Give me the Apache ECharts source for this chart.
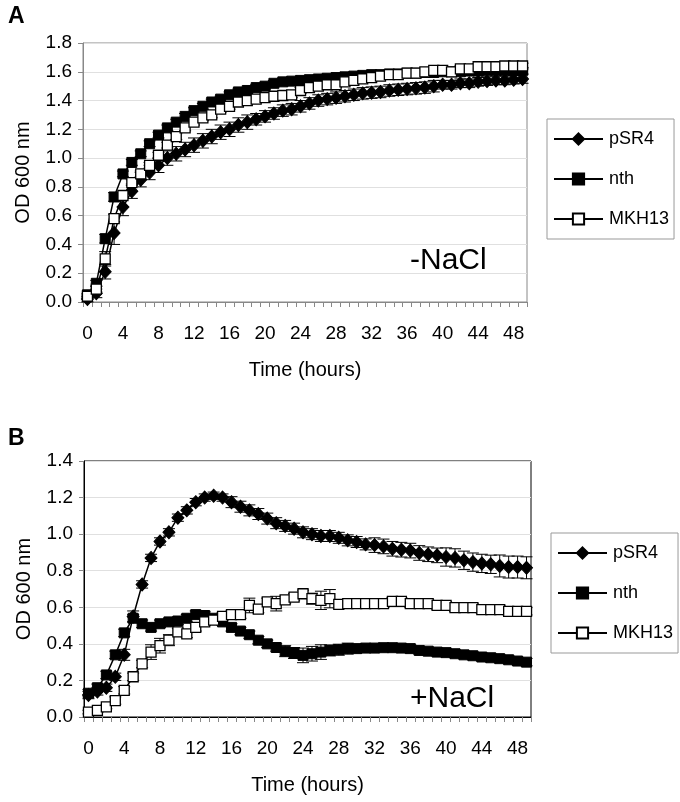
<!DOCTYPE html>
<html>
<head>
<meta charset="utf-8">
<script src="https://cdn.jsdelivr.net/npm/echarts@6/dist/echarts.min.js"></script>
<style>
html,body{margin:0;padding:0;background:#fff;}
#chart{width:680px;height:802px;}
</style>
</head>
<body>
<div id="chart"></div>
<script>
const hours = ['0','1','2','3','4','5','6','7','8','9','10','11','12','13','14','15','16','17','18','19','20','21','22','23','24','25','26','27','28','29','30','31','32','33','34','35','36','37','38','39','40','41','42','43','44','45','46','47','48','49'];
const seriesNames = ['pSR4', 'nth', 'MKH13'];
const yTicksA = [0, 0.2, 0.4, 0.6, 0.8, 1.0, 1.2, 1.4, 1.6, 1.8];
const yTicksB = [0, 0.2, 0.4, 0.6, 0.8, 1.0, 1.2, 1.4];

// Panel A (-NaCl)
const A_pSR4 = [0.02,0.06,0.21,0.48,0.66,0.77,0.85,0.90,0.95,1.00,1.03,1.06,1.09,1.12,1.15,1.18,1.20,1.23,1.25,1.27,1.29,1.31,1.33,1.34,1.36,1.38,1.40,1.41,1.42,1.43,1.44,1.45,1.455,1.46,1.47,1.475,1.48,1.485,1.49,1.50,1.51,1.51,1.52,1.52,1.53,1.535,1.54,1.54,1.545,1.55];
const A_nth = [0.05,0.13,0.44,0.73,0.89,0.97,1.03,1.10,1.16,1.21,1.25,1.29,1.33,1.36,1.39,1.41,1.44,1.46,1.47,1.49,1.50,1.52,1.53,1.535,1.54,1.545,1.55,1.555,1.56,1.565,1.57,1.575,1.58,1.58,1.585,1.585,1.59,1.59,1.595,1.595,1.60,1.60,1.60,1.605,1.605,1.61,1.61,1.61,1.61,1.61];
const A_MKH13 = [0.04,0.09,0.30,0.58,0.74,0.83,0.89,0.95,1.02,1.09,1.15,1.21,1.25,1.28,1.30,1.34,1.36,1.39,1.40,1.41,1.42,1.43,1.435,1.44,1.47,1.49,1.50,1.51,1.51,1.53,1.54,1.55,1.56,1.57,1.58,1.58,1.59,1.59,1.60,1.61,1.61,1.60,1.62,1.62,1.635,1.635,1.635,1.64,1.64,1.64];
const A_pSR4_err = [0.02,0.03,0.05,0.08,0.06,0.05,0.05,0.05,0.05,0.05,0.05,0.05,0.05,0.05,0.05,0.05,0.05,0.05,0.05,0.04,0.04,0.04,0.04,0.04,0.04,0.04,0.04,0.04,0.04,0.04,0.04,0.04,0.04,0.04,0.04,0.04,0.04,0.04,0.04,0.04,0.03,0.03,0.03,0.03,0.03,0.03,0.03,0.03,0.03,0.03];
const A_nth_err = [0.01,0.02,0.03,0.03,0.02,0.02,0.02,0.02,0.02,0.02,0.02,0.02,0.02,0.02,0.02,0.02,0.02,0.02,0.02,0.02,0.02,0.02,0.02,0.02,0.02,0.02,0.02,0.02,0.02,0.02,0.02,0.02,0.02,0.02,0.02,0.02,0.02,0.02,0.02,0.02,0.02,0.02,0.02,0.02,0.02,0.02,0.02,0.02,0.02,0.02];
const A_MKH13_err = [0.01,0.02,0.05,0.03,0.02,0.02,0.02,0.02,0.02,0.02,0.02,0.02,0.02,0.02,0.02,0.02,0.02,0.02,0.02,0.02,0.02,0.02,0.02,0.02,0.02,0.02,0.02,0.02,0.02,0.02,0.02,0.02,0.02,0.02,0.02,0.02,0.02,0.02,0.02,0.02,0.02,0.02,0.02,0.02,0.02,0.02,0.02,0.02,0.02,0.02];

// Panel B (+NaCl)
const B_pSR4 = [0.12,0.14,0.16,0.22,0.34,0.55,0.725,0.87,0.96,1.01,1.09,1.13,1.175,1.20,1.21,1.20,1.175,1.15,1.13,1.11,1.085,1.06,1.045,1.03,1.01,1.00,0.99,0.99,0.98,0.966,0.957,0.944,0.94,0.933,0.92,0.915,0.91,0.897,0.89,0.884,0.875,0.87,0.857,0.847,0.84,0.835,0.826,0.82,0.82,0.816];
const B_nth = [0.13,0.16,0.23,0.34,0.46,0.54,0.51,0.49,0.51,0.52,0.525,0.54,0.56,0.555,0.54,0.52,0.49,0.47,0.45,0.42,0.40,0.38,0.36,0.35,0.337,0.346,0.355,0.364,0.368,0.374,0.374,0.377,0.377,0.379,0.379,0.377,0.374,0.364,0.36,0.355,0.352,0.346,0.34,0.335,0.328,0.324,0.319,0.313,0.306,0.30];
const B_MKH13 = [0.027,0.036,0.055,0.09,0.146,0.22,0.29,0.355,0.39,0.42,0.465,0.455,0.49,0.52,0.53,0.55,0.56,0.56,0.61,0.59,0.63,0.62,0.64,0.656,0.674,0.647,0.638,0.647,0.616,0.62,0.62,0.62,0.62,0.62,0.632,0.632,0.62,0.62,0.62,0.61,0.61,0.598,0.598,0.598,0.587,0.587,0.587,0.578,0.578,0.578];
const B_pSR4_err = [0.02,0.02,0.02,0.02,0.03,0.03,0.02,0.02,0.02,0.02,0.02,0.02,0.02,0.02,0.02,0.02,0.03,0.03,0.03,0.03,0.03,0.03,0.03,0.03,0.03,0.03,0.03,0.03,0.03,0.03,0.03,0.03,0.04,0.04,0.04,0.04,0.04,0.04,0.04,0.04,0.05,0.05,0.05,0.05,0.05,0.05,0.06,0.06,0.06,0.06];
const B_nth_err = [0.02,0.02,0.02,0.02,0.02,0.02,0.02,0.02,0.02,0.02,0.02,0.02,0.02,0.02,0.02,0.02,0.02,0.02,0.02,0.02,0.02,0.02,0.03,0.03,0.04,0.04,0.04,0.03,0.03,0.03,0.02,0.02,0.02,0.02,0.02,0.02,0.02,0.02,0.02,0.02,0.02,0.02,0.02,0.02,0.02,0.02,0.02,0.02,0.02,0.02];
const B_MKH13_err = [0.01,0.01,0.01,0.02,0.02,0.02,0.02,0.04,0.04,0.03,0.02,0.02,0.02,0.02,0.02,0.02,0.02,0.02,0.04,0.02,0.02,0.04,0.02,0.02,0.02,0.03,0.05,0.05,0.02,0.02,0.02,0.02,0.02,0.02,0.02,0.02,0.02,0.02,0.02,0.02,0.02,0.02,0.02,0.02,0.02,0.02,0.02,0.02,0.02,0.02];

const FONT = '"Liberation Sans", Arial, Helvetica, sans-serif';

function xAxisFor(gridIndex, lineColor) {
  return {
    type: 'category', gridIndex: gridIndex, data: hours, boundaryGap: true,
    name: 'Time (hours)', nameLocation: 'middle', nameGap: 58,
    nameTextStyle: {fontFamily: FONT, fontSize: 20, color: '#000'},
    axisLine: {show: true, lineStyle: {color: lineColor, width: 1}},
    axisTick: {show: true, interval: 0, alignWithLabel: false, length: 5, lineStyle: {color: '#888'}},
    axisLabel: {interval: 3, margin: 22, fontFamily: FONT, fontSize: 19, color: '#000'},
    splitLine: {show: false}
  };
}
function yAxisFor(gridIndex, ticks, lineColor) {
  return {
    type: 'value', gridIndex: gridIndex, min: ticks[0], max: ticks[ticks.length - 1], interval: 0.2,
    name: 'OD 600 nm', nameLocation: 'middle', nameGap: 50,
    nameTextStyle: {fontFamily: FONT, fontSize: 20, color: '#000'},
    axisLine: {show: true, lineStyle: {color: lineColor, width: 1}},
    axisTick: {show: true, length: 5, lineStyle: {color: '#888'}},
    axisLabel: {margin: 11, fontFamily: FONT, fontSize: 19, color: '#000', formatter: v => v.toFixed(1)},
    splitLine: {show: true, lineStyle: {color: '#e0e0e0', width: 1}}
  };
}
const markerStyles = {
  pSR4: {symbol: 'diamond', symbolSize: [12, 13], itemStyle: {color: '#000', borderColor: '#000', borderWidth: 1}},
  nth: {symbol: 'rect', symbolSize: 10, itemStyle: {color: '#000', borderColor: '#000', borderWidth: 1}},
  MKH13: {symbol: 'rect', symbolSize: 10, itemStyle: {color: '#fff', borderColor: '#000', borderWidth: 1.3}}
};
function lineSeries(name, data, idx) {
  const m = markerStyles[name];
  return {
    type: 'line', name: name, xAxisIndex: idx, yAxisIndex: idx, data: data,
    symbol: m.symbol, symbolSize: m.symbolSize, showAllSymbol: true,
    itemStyle: m.itemStyle, lineStyle: {color: '#000', width: 1.5},
    animation: false, emphasis: {disabled: true}, z: 3
  };
}
function errorSeries(vals, errs, idx) {
  const data = vals.map((v, i) => [i, v, errs[i]]);
  return {
    type: 'custom', name: 'err', xAxisIndex: idx, yAxisIndex: idx, data: data, z: 2,
    silent: true, animation: false,
    renderItem: function (params, api) {
      const i = api.value(0), v = api.value(1), e = api.value(2);
      const top = api.coord([i, v + e]);
      const bot = api.coord([i, v - e]);
      const hw = 6;
      const st = {stroke: '#000', lineWidth: 1};
      return {type: 'group', children: [
        {type: 'line', shape: {x1: top[0], y1: top[1], x2: bot[0], y2: bot[1]}, style: st},
        {type: 'line', shape: {x1: top[0] - hw, y1: top[1], x2: top[0] + hw, y2: top[1]}, style: st},
        {type: 'line', shape: {x1: bot[0] - hw, y1: bot[1], x2: bot[0] + hw, y2: bot[1]}, style: st}
      ]};
    }
  };
}
function legendFor(left, top) {
  return {
    data: seriesNames, orient: 'vertical', left: left, top: top,
    itemWidth: 49, itemHeight: 14, itemGap: 22,
    padding: [11, 5, 11, 6], borderColor: '#999', borderWidth: 1,
    textStyle: {fontFamily: FONT, fontSize: 18, color: '#000', padding: [0, 0, 0, 1]},
    selectedMode: false
  };
}

const chart = echarts.init(document.getElementById('chart'), null, {renderer: 'canvas'});
chart.setOption({
  backgroundColor: '#fff',
  animation: false,
  grid: [
    {left: 83, top: 43, width: 444, height: 259, show: true, borderColor: '#888', borderWidth: 1, backgroundColor: 'transparent'},
    {left: 84, top: 461, width: 447, height: 256, show: true, borderColor: '#000', borderWidth: 1, backgroundColor: 'transparent'}
  ],
  xAxis: [xAxisFor(0, '#888'), xAxisFor(1, '#000')],
  yAxis: [yAxisFor(0, yTicksA, '#888'), yAxisFor(1, yTicksB, '#000')],
  legend: [legendFor(547, 119), legendFor(551, 533)],
  series: [
    errorSeries(A_pSR4, A_pSR4_err, 0), errorSeries(A_nth, A_nth_err, 0), errorSeries(A_MKH13, A_MKH13_err, 0),
    errorSeries(B_pSR4, B_pSR4_err, 1), errorSeries(B_nth, B_nth_err, 1), errorSeries(B_MKH13, B_MKH13_err, 1),
    lineSeries('pSR4', A_pSR4, 0), lineSeries('nth', A_nth, 0), lineSeries('MKH13', A_MKH13, 0),
    lineSeries('pSR4', B_pSR4, 1), lineSeries('nth', B_nth, 1), lineSeries('MKH13', B_MKH13, 1)
  ],
  graphic: [
    {type: 'text', left: 8, top: 5, style: {text: 'A', font: 'bold 23px ' + FONT, fill: '#000'}},
    {type: 'text', left: 8, top: 427, style: {text: 'B', font: 'bold 23px ' + FONT, fill: '#000'}},
    {type: 'text', left: 410, top: 246, z: 10, style: {text: '-NaCl', font: '30px ' + FONT, fill: '#000'}},
    {type: 'text', left: 410, top: 684, z: 10, style: {text: '+NaCl', font: '30px ' + FONT, fill: '#000'}}
  ]
});
</script>
</body>
</html>
